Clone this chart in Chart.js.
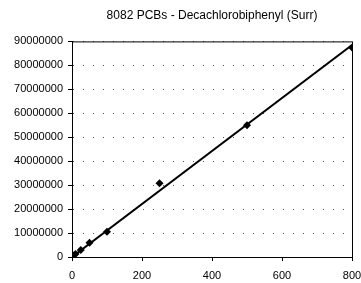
<!DOCTYPE html>
<html>
<head>
<meta charset="utf-8">
<script src="https://cdn.jsdelivr.net/npm/chart.js@4/dist/chart.umd.min.js"></script>
<style>
    html, body { margin: 0; padding: 0; background: #fff; }
    #wrap { width: 361px; height: 283px; }
</style>
</head>
<body>
<div id="wrap"><canvas id="grafico" width="361" height="283"></canvas></div>
<script>
const titulo = "8082 PCBs - Decachlorobiphenyl (Surr)";
const concentracoes = [5, 10, 25, 50, 100, 250, 500, 800];
const respostas = [600000, 1300000, 2900000, 5900000, 10500000, 30800000, 55000000, 87500000];
const retaX = [0, 800];
const retaY = [0, 88500000];
const ticksX = [0, 200, 400, 600, 800];
const ticksY = [0, 10000000, 20000000, 30000000, 40000000, 50000000, 60000000, 70000000, 80000000, 90000000];

const moldura = {
    id: "moldura",
    afterDatasetsDraw(chart) {
        const a = chart.chartArea;
        const ctx = chart.ctx;
        ctx.save();
        ctx.strokeStyle = "#000";
        ctx.lineWidth = 1;
        ctx.strokeRect(a.left + 0.5, a.top + 0.5, a.right - a.left, a.bottom - a.top);
        ctx.restore();
    }
};

const ctx = document.getElementById("grafico").getContext("2d");
new Chart(ctx, {
    type: "scatter",
    data: {
        datasets: [
            {
                label: "Pontos",
                data: concentracoes.map((x, i) => ({ x: x, y: respostas[i] })),
                pointStyle: "rectRot",
                pointRadius: 4,
                backgroundColor: "#000",
                borderColor: "#000",
                borderWidth: 0,
            },
            {
                label: "Reta",
                data: retaX.map((x, i) => ({ x: x, y: retaY[i] })),
                showLine: true,
                pointRadius: 0,
                borderColor: "#000",
                borderWidth: 2,
                fill: false,
            },
        ],
    },
    options: {
        responsive: false,
        animation: false,
        layout: { padding: { left: 0, right: 0, top: 0, bottom: 0 } },
        plugins: {
            legend: { display: false },
            tooltip: { enabled: false },
            title: {
                display: true,
                fullSize: false,
                text: titulo,
                color: "#000",
                font: { family: "Liberation Sans", size: 12, weight: "normal" },
                padding: { top: 8, bottom: 19 },
            },
        },
        scales: {
            x: {
                type: "linear",
                min: 0,
                max: 800,
                afterBuildTicks: (s) => { s.ticks = ticksX.map((v) => ({ value: v })); },
                afterFit: (s) => {
                    s.height = 26;
                    s.paddingLeft = 0;
                    s.paddingRight = 9;
                },
                grid: { drawOnChartArea: false, drawTicks: true, tickLength: 4, tickColor: "#000" },
                border: { display: true, color: "#000", width: 1 },
                ticks: {
                    color: "#000",
                    padding: 8,
                    maxRotation: 0,
                    font: { family: "Liberation Sans", size: 11 },
                },
            },
            y: {
                type: "linear",
                min: 0,
                max: 90000000,
                afterBuildTicks: (s) => { s.ticks = ticksY.map((v) => ({ value: v })); },
                afterFit: (s) => { s.width = 72; },
                grid: {
                    color: "#555",
                    lineWidth: 1,
                    tickLength: 4,
                    tickColor: "#000",
                    tickBorderDash: [],
                },
                border: { display: true, color: "#000", width: 1, dash: [1, 9] },
                ticks: {
                    color: "#000",
                    padding: 5,
                    font: { family: "Liberation Sans", size: 11 },
                    callback: (v) => String(v),
                },
            },
        },
    },
    plugins: [moldura],
});
</script>
</body>
</html>
